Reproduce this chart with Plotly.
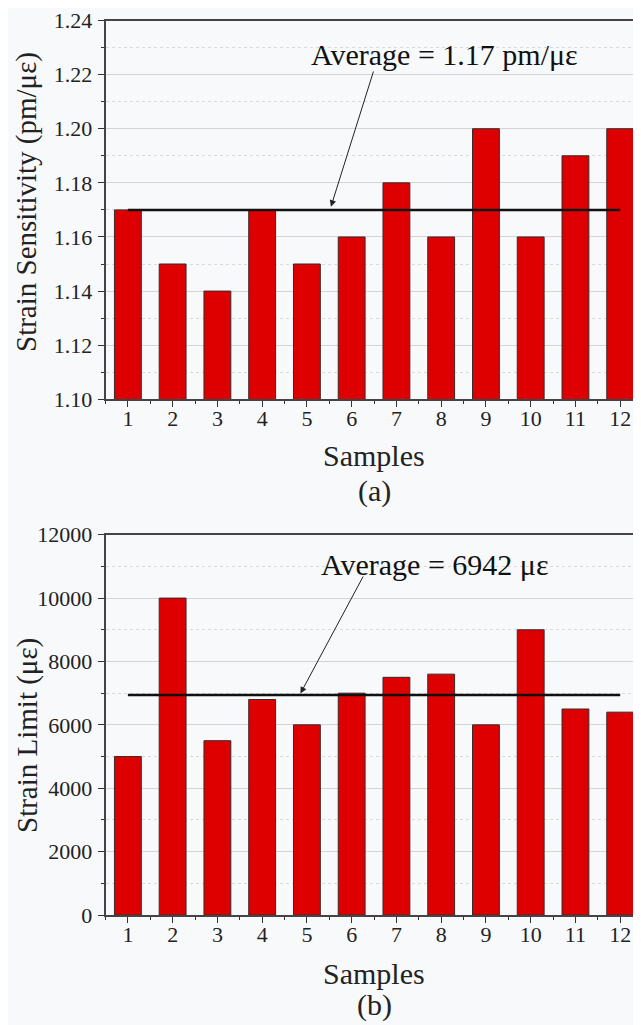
import plotly.graph_objects as go

samples = [1, 2, 3, 4, 5, 6, 7, 8, 9, 10, 11, 12]
sensitivity = [1.17, 1.15, 1.14, 1.17, 1.15, 1.16, 1.18, 1.16, 1.20, 1.16, 1.19, 1.20]
strain_limit = [5000, 10000, 5500, 6800, 6000, 7000, 7500, 7600, 6000, 9000, 6500, 6400]
avg_sensitivity = 1.17
avg_limit = 6942
x_tick_labels = [str(s) for s in samples]

FONT = "Liberation Serif"
BG = "#F8F9FB"
BAR = "#DE0000"
W, H = 641, 1025
OFF = 8  # page body offset


def px(x):
    return (x - OFF) / W


def py(y):
    return 1 - (y - OFF) / H


fig = go.Figure()

fig.add_trace(go.Bar(x=samples, y=sensitivity, width=0.6,
                     marker=dict(color=BAR, line=dict(color="#3a2a2a", width=1)),
                     xaxis="x", yaxis="y", showlegend=False))
fig.add_trace(go.Scatter(x=[samples[0], samples[-1]], y=[avg_sensitivity] * 2, mode="lines",
                         line=dict(color="#111111", width=2.5), xaxis="x", yaxis="y", showlegend=False))

fig.add_trace(go.Bar(x=samples, y=strain_limit, width=0.6,
                     marker=dict(color=BAR, line=dict(color="#3a2a2a", width=1)),
                     xaxis="x2", yaxis="y2", showlegend=False))
fig.add_trace(go.Scatter(x=[samples[0], samples[-1]], y=[avg_limit] * 2, mode="lines",
                         line=dict(color="#111111", width=2.5), xaxis="x2", yaxis="y2", showlegend=False))

xdom = [px(105.5), px(639)]
xr = [0.5, 12.42]


def xaxis_cfg(anchor):
    return dict(domain=xdom, range=xr, anchor=anchor, tickmode="array",
                tickvals=samples, ticktext=x_tick_labels, automargin=False,
                ticks="outside", ticklen=6, tickwidth=1.2, tickcolor="#333",
                ticklabelstandoff=-7,
                showline=True, linecolor="#444", linewidth=1.5, mirror=True,
                showgrid=False, zeroline=False,
                tickfont=dict(family=FONT, size=22, color="#222"),
                minor=dict(tickmode="array", tickvals=[s + 0.5 for s in [0] + samples],
                           ticks="outside", ticklen=3, tickcolor="#333", showgrid=False))


def yaxis_cfg(anchor, dom, rng, dtick, minor_dtick, fmt):
    return dict(domain=dom, range=rng, anchor=anchor, dtick=dtick, tick0=rng[0],
                tickformat=fmt, ticks="outside", ticklen=6, tickwidth=1.2, tickcolor="#333",
                automargin=False, ticklabelstandoff=1,
                showline=True, linecolor="#444", linewidth=1.5, mirror=True,
                showgrid=True, gridcolor="#D4D4D4", gridwidth=1, zeroline=False,
                tickfont=dict(family=FONT, size=22, color="#222"),
                minor=dict(dtick=minor_dtick, tick0=rng[0], ticks="outside", ticklen=3,
                           tickcolor="#333", showgrid=True, gridcolor="#DADADA",
                           griddash="dot", gridwidth=1))


ydom1 = [py(399.3), py(20.5)]
ydom2 = [py(915), py(534.7)]

fig.update_layout(
    width=W, height=H,
    margin=dict(l=0, r=0, t=0, b=0, autoexpand=False),
    paper_bgcolor=BG, plot_bgcolor=BG,
    xaxis=xaxis_cfg("y"), yaxis=yaxis_cfg("x", ydom1, [1.10, 1.24], 0.02, 0.01, ".2f"),
    xaxis2=xaxis_cfg("y2"), yaxis2=yaxis_cfg("x2", ydom2, [0, 12000], 2000, 1000, "d"),
    font=dict(family=FONT, color="#222"),
)

ann = []


def text(x, y, s, size, angle=0):
    ann.append(dict(x=px(x), y=py(y), xref="paper", yref="paper", text=s, showarrow=False,
                    font=dict(family=FONT, size=size, color="#222"), textangle=angle,
                    xanchor="center", yanchor="middle"))


text(374, 456, "Samples", 30)
text(374, 491, "(a)", 30)
text(374, 973, "Samples", 30)
text(374, 1005, "(b)", 30)
text(27, 202, "Strain Sensitivity (pm/με)", 29, -90)
text(27, 736, "Strain Limit (με)", 29, -90)

# Average labels with arrows
ann.append(dict(x=8.07, y=1.2276, xref="x", yref="y", text="Average = 1.17 pm/με",
                showarrow=False, font=dict(family=FONT, size=30, color="#111")))
ann.append(dict(x=5.537, y=1.1712, xref="x", yref="y", ax=6.497, ay=1.2217,
                axref="x", ayref="y", showarrow=True, arrowhead=2, arrowsize=1.3,
                arrowwidth=1, arrowcolor="#222", text=""))
ann.append(dict(x=7.85, y=11075, xref="x2", yref="y2", text="Average = 6942 με",
                showarrow=False, font=dict(family=FONT, size=30, color="#111")))
ann.append(dict(x=4.856, y=6990, xref="x2", yref="y2", ax=6.274, ay=10728,
                axref="x2", ayref="y2", showarrow=True, arrowhead=2, arrowsize=1.3,
                arrowwidth=1, arrowcolor="#222", text=""))

fig.update_layout(annotations=ann)
fig.write_html("out.html")
